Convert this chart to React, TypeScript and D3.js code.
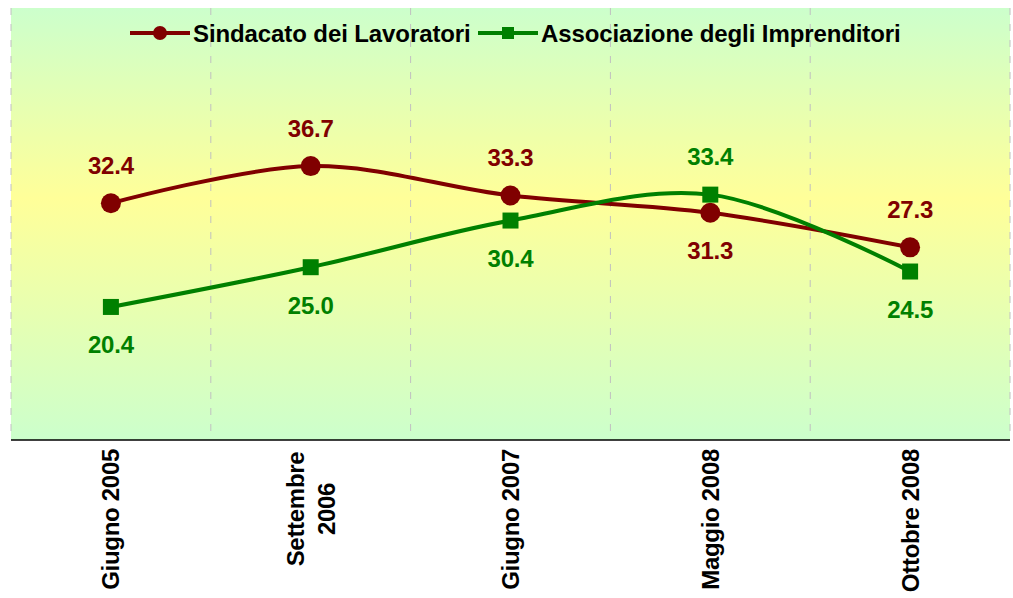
import { useEffect, useRef } from 'react';
import * as d3 from 'd3';

const categories = ['Giugno 2005', 'Settembre 2006', 'Giugno 2007', 'Maggio 2008', 'Ottobre 2008'];
const tickLabels = [['Giugno 2005'], ['Settembre', '2006'], ['Giugno 2007'], ['Maggio 2008'], ['Ottobre 2008']];
const sindacato = [32.4, 36.7, 33.3, 31.3, 27.3];
const associazione = [20.4, 25.0, 30.4, 33.4, 24.5];
const sindacatoLabelSide = ['above', 'above', 'above', 'below', 'above'];
const associazioneLabelSide = ['below', 'below', 'below', 'above', 'below'];

const series = [
  { name: 'Sindacato dei Lavoratori', values: sindacato, sides: sindacatoLabelSide, color: '#800000', marker: 'circle' },
  { name: 'Associazione degli Imprenditori', values: associazione, sides: associazioneLabelSide, color: '#008000', marker: 'square' },
];

export default function App() {
  const ref = useRef<SVGSVGElement>(null);

  useEffect(() => {
    const svg = d3.select(ref.current);
    svg.selectAll('*').remove();

    const left = 11, right = 1010, top = 8, bottom = 440;
    const font = 'Arial, "Liberation Sans", sans-serif';

    const x = d3.scaleBand().domain(categories).range([left, right]);
    const y = d3.scaleLinear().domain([5, 55]).range([bottom, top]);
    const cx = (c: string) => x(c)! + x.bandwidth() / 2;

    const defs = svg.append('defs');
    const grad = defs.append('linearGradient').attr('id', 'bg').attr('x1', 0).attr('y1', 0).attr('x2', 0).attr('y2', 1);
    grad.append('stop').attr('offset', '0').attr('stop-color', '#ccffcc');
    grad.append('stop').attr('offset', '0.44').attr('stop-color', '#ffff99');
    grad.append('stop').attr('offset', '1').attr('stop-color', '#ccffcc');

    svg.append('rect')
      .attr('x', left).attr('y', top)
      .attr('width', right - left).attr('height', bottom - top)
      .attr('fill', 'url(#bg)');

    // dashed vertical gridlines at category boundaries
    const bounds = categories.map(c => x(c)!).concat([right]);
    svg.append('g').selectAll('line')
      .data(bounds)
      .enter().append('line')
      .attr('x1', d => d).attr('x2', d => d)
      .attr('y1', top).attr('y2', bottom)
      .attr('stroke', '#c0c0c0')
      .attr('stroke-width', 1)
      .attr('stroke-dasharray', '7,9');

    // x axis line
    svg.append('line')
      .attr('x1', left).attr('x2', right)
      .attr('y1', bottom).attr('y2', bottom)
      .attr('stroke', '#000').attr('stroke-width', 1.5);

    // category labels, rotated
    tickLabels.forEach((lines, i) => {
      const px = cx(categories[i]);
      const n = lines.length;
      lines.forEach((t, j) => {
        const off = (j - (n - 1) / 2) * 31;
        svg.append('text')
          .attr('transform', `translate(${px + off},${n > 1 ? 509 : 449}) rotate(-90)`)
          .attr('text-anchor', n > 1 ? 'middle' : 'end')
          .attr('dominant-baseline', 'central')
          .attr('font-family', font)
          .attr('font-weight', 'bold')
          .attr('font-size', 24)
          .attr('letter-spacing', -0.3)
          .attr('fill', '#000')
          .text(t);
      });
    });

    const line = d3.line<number>()
      .x((_, i) => cx(categories[i]))
      .y(d => y(d))
      .curve(d3.curveCatmullRom.alpha(0.5));

    series.forEach(s => {
      svg.append('path')
        .datum(s.values)
        .attr('d', line)
        .attr('fill', 'none')
        .attr('stroke', s.color)
        .attr('stroke-width', 4);

      const g = svg.append('g');
      s.values.forEach((v, i) => {
        const px = cx(categories[i]);
        const py = y(v);
        if (s.marker === 'circle') {
          g.append('circle').attr('cx', px).attr('cy', py).attr('r', 10).attr('fill', s.color);
        } else {
          g.append('rect').attr('x', px - 8).attr('y', py - 8).attr('width', 16).attr('height', 16).attr('fill', s.color);
        }
        g.append('text')
          .attr('x', px)
          .attr('y', s.sides[i] === 'above' ? py - 38 : py + 38)
          .attr('text-anchor', 'middle')
          .attr('dominant-baseline', 'central')
          .attr('font-family', font)
          .attr('font-weight', 'bold')
          .attr('font-size', 24)
          .attr('letter-spacing', -0.2)
          .attr('fill', s.color)
          .text(v.toFixed(1));
      });
    });

    // legend
    const legendY = 33;
    const legendItems = [
      { s: series[0], x0: 130 },
      { s: series[1], x0: 478 },
    ];
    legendItems.forEach(({ s, x0 }) => {
      const lg = svg.append('g');
      lg.append('line')
        .attr('x1', x0).attr('x2', x0 + 60)
        .attr('y1', legendY).attr('y2', legendY)
        .attr('stroke', s.color).attr('stroke-width', 4);
      if (s.marker === 'circle') {
        lg.append('circle').attr('cx', x0 + 30).attr('cy', legendY).attr('r', 7).attr('fill', s.color);
      } else {
        lg.append('rect').attr('x', x0 + 24).attr('y', legendY - 6).attr('width', 12).attr('height', 12).attr('fill', s.color);
      }
      lg.append('text')
        .attr('x', x0 + 63)
        .attr('y', legendY)
        .attr('dominant-baseline', 'central')
        .attr('font-family', font)
        .attr('font-weight', 'bold')
        .attr('font-size', 24)
        .attr('letter-spacing', -0.1)
        .attr('fill', '#000')
        .text(s.name);
    });
  }, []);

  return (
    <svg
      ref={ref}
      width={1013}
      height={598}
      style={{ position: 'absolute', left: 0, top: 0, background: '#fff' }}
    />
  );
}
